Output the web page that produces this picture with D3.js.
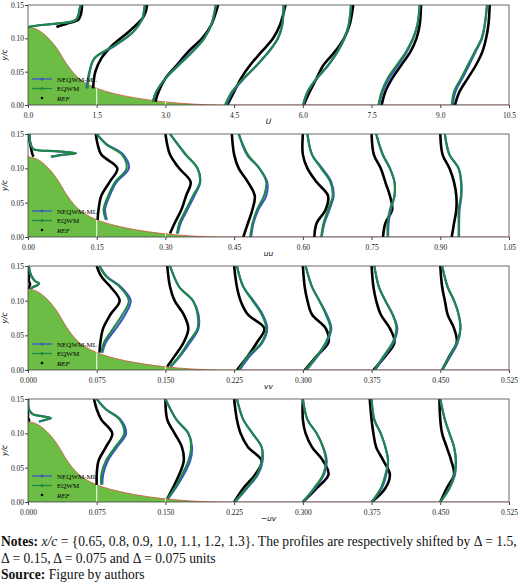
<!DOCTYPE html>
<html><head><meta charset="utf-8">
<script src="https://cdn.jsdelivr.net/npm/d3@7"></script>
<style>body{margin:0;background:#fff}</style></head>
<body><svg id="c" width="520" height="584"></svg>
<script>
// hill geometry (fraction of x-axis, y/c)
const hillFrac = [0,0.02,0.04,0.06,0.08,0.10,0.12,0.14,0.18,0.22,0.28,0.34,0.4,1];
const hillH    = [0.117,0.113,0.102,0.085,0.062,0.044,0.033,0.026,0.017,0.011,0.005,0.0015,0,0];

const G  = [0,0.02,0.04,0.06,0.08,0.10,0.12,0.15];
const G2 = [0.005,0.02,0.04,0.06,0.08,0.10,0.12,0.15];
const G1 = [0.025,0.04,0.06,0.08,0.10,0.12,0.135,0.15];
const G0 = [0.117,0.12,0.122,0.125,0.128,0.135,0.142,0.15];

// U panel
const uY   = [G0,[0.025,0.05,0.07,0.09,0.11,0.13,0.14,0.15],G2,G,G,G,G];
const uEQ  = [[0.0,0.3,0.6,0.95,1.05,1.1,1.12,1.15],[1.3,1.35,1.45,1.9,2.3,2.5,2.53,2.55],[2.72,2.8,3.0,3.3,3.6,3.85,4.0,4.1],
  [4.3,4.45,4.7,5.0,5.25,5.45,5.55,5.58],[6.0,6.1,6.3,6.55,6.75,6.9,7.0,7.05],[7.65,7.72,7.85,8.05,8.25,8.4,8.5,8.55],[9.25,9.3,9.45,9.6,9.75,9.9,9.97,10.02]];
const uNEQ = [[0.0,0.3,0.62,0.95,1.05,1.1,1.12,1.15],[1.28,1.34,1.45,1.92,2.3,2.5,2.53,2.55],[2.73,2.8,3.0,3.28,3.58,3.84,4.0,4.1],
  [4.33,4.47,4.72,5.0,5.26,5.46,5.55,5.58],[6.01,6.11,6.31,6.56,6.76,6.91,7.0,7.05],[7.66,7.74,7.88,8.08,8.27,8.41,8.5,8.55],[9.27,9.33,9.48,9.63,9.77,9.91,9.97,10.02]];
const uREF = [[0.62,0.75,0.85,1.0,1.1,1.15,1.17,1.18],[1.42,1.47,1.6,1.85,2.2,2.5,2.57,2.6],[2.78,2.85,3.0,3.25,3.5,3.8,4.0,4.15],
  [4.35,4.5,4.65,4.85,5.1,5.35,5.5,5.62],[6.02,6.15,6.3,6.45,6.7,6.9,7.02,7.1],[7.72,7.8,7.95,8.15,8.35,8.48,8.55,8.58],[9.32,9.42,9.6,9.78,9.92,10.0,10.05,10.08]];

// uu panel
const uuY   = [G0,G1,G2,G,G,G,G];
const uuEQ  = [[0.05,0.08,0.105,0.06,0.012,0.006,0.004,0.003],[0.17,0.165,0.175,0.19,0.215,0.205,0.17,0.15],[0.325,0.33,0.345,0.36,0.375,0.37,0.345,0.31],
  [0.485,0.49,0.5,0.515,0.52,0.505,0.48,0.46],[0.64,0.645,0.655,0.665,0.66,0.64,0.62,0.61],[0.785,0.785,0.79,0.8,0.8,0.79,0.775,0.76],[0.94,0.94,0.94,0.945,0.945,0.94,0.92,0.91]];
const uuNEQ = [[0.05,0.08,0.105,0.06,0.012,0.006,0.004,0.003],[0.172,0.168,0.178,0.193,0.22,0.208,0.172,0.15],[0.327,0.333,0.348,0.363,0.376,0.37,0.344,0.31],
  [0.487,0.492,0.503,0.52,0.522,0.505,0.478,0.46],[0.641,0.647,0.658,0.667,0.662,0.642,0.62,0.61],[0.786,0.787,0.792,0.8,0.8,0.79,0.774,0.76],[0.941,0.941,0.942,0.946,0.946,0.94,0.92,0.91]];
const uuREF = [[0.012,0.01,0.009,0.008,0.007,0.005,0.003,0.002],[0.152,0.154,0.16,0.178,0.195,0.16,0.152,0.148],[0.31,0.32,0.335,0.345,0.355,0.33,0.31,0.3],
  [0.47,0.48,0.49,0.495,0.48,0.46,0.45,0.445],[0.625,0.63,0.65,0.655,0.63,0.61,0.6,0.6],[0.775,0.78,0.795,0.79,0.78,0.77,0.755,0.75],[0.925,0.93,0.935,0.935,0.93,0.92,0.905,0.9]];

// vv panel
const vvY   = [G0,G1,G2,G,G,G,G];
const vvEQ  = [[0.003,0.006,0.01,0.012,0.008,0.004,0.002,0.001],[0.08,0.083,0.093,0.103,0.11,0.1,0.085,0.078],[0.155,0.165,0.175,0.185,0.185,0.18,0.165,0.155],
  [0.23,0.24,0.255,0.26,0.255,0.245,0.235,0.228],[0.303,0.315,0.325,0.33,0.325,0.318,0.31,0.303],[0.378,0.388,0.398,0.402,0.398,0.39,0.383,0.378],[0.452,0.46,0.468,0.472,0.47,0.465,0.458,0.452]];
const vvNEQ = [[0.003,0.006,0.01,0.012,0.008,0.004,0.002,0.001],[0.081,0.085,0.096,0.106,0.112,0.101,0.086,0.078],[0.156,0.166,0.177,0.186,0.186,0.18,0.165,0.155],
  [0.231,0.242,0.256,0.261,0.256,0.246,0.235,0.228],[0.304,0.316,0.326,0.331,0.326,0.318,0.31,0.303],[0.379,0.389,0.399,0.403,0.398,0.39,0.383,0.378],[0.452,0.461,0.469,0.472,0.47,0.465,0.458,0.452]];
const vvREF = [[0.001,0.001,0.002,0.002,0.001,0.001,0.0,0.0],[0.078,0.079,0.082,0.09,0.1,0.09,0.08,0.075],[0.152,0.16,0.17,0.175,0.17,0.16,0.155,0.152],
  [0.228,0.24,0.25,0.258,0.24,0.232,0.228,0.225],[0.302,0.315,0.328,0.325,0.31,0.305,0.302,0.3],[0.377,0.39,0.4,0.395,0.385,0.38,0.377,0.375],[0.452,0.46,0.468,0.465,0.458,0.455,0.452,0.45]];

// -uv panel
const uvY   = [G0,G1,G2,G,G,G,G];
const uvEQ  = [[0.012,0.02,0.025,0.015,0.005,0.001,0.0,0.0],[0.08,0.08,0.085,0.095,0.105,0.1,0.085,0.075],[0.152,0.16,0.168,0.175,0.178,0.175,0.162,0.15],
  [0.225,0.238,0.25,0.255,0.255,0.245,0.235,0.228],[0.3,0.312,0.322,0.325,0.322,0.315,0.305,0.3],[0.375,0.385,0.39,0.393,0.39,0.385,0.378,0.375],[0.45,0.46,0.465,0.467,0.465,0.46,0.455,0.45]];
const uvNEQ = [[0.012,0.02,0.025,0.015,0.005,0.001,0.0,0.0],[0.081,0.082,0.087,0.097,0.107,0.101,0.085,0.075],[0.153,0.161,0.17,0.177,0.179,0.175,0.162,0.15],
  [0.226,0.239,0.251,0.256,0.255,0.245,0.235,0.228],[0.3,0.313,0.323,0.326,0.322,0.315,0.305,0.3],[0.375,0.386,0.391,0.393,0.39,0.385,0.378,0.375],[0.45,0.46,0.466,0.467,0.465,0.46,0.455,0.45]];
const uvREF = [[0.001,0.001,0.0,0.0,0.0,0.0,0.0,0.0],[0.075,0.075,0.077,0.085,0.092,0.08,0.075,0.072],[0.152,0.158,0.165,0.17,0.168,0.16,0.152,0.15],
  [0.225,0.235,0.248,0.255,0.24,0.232,0.228,0.225],[0.3,0.315,0.328,0.322,0.31,0.303,0.3,0.3],[0.375,0.39,0.395,0.388,0.38,0.377,0.375,0.373],[0.45,0.457,0.465,0.462,0.457,0.452,0.45,0.449]];

const xMax   = [10.5, 1.05, 0.525, 0.525];
const xTicks = [d3.range(0,10.51,1.5), d3.range(0,1.051,0.15), d3.range(0,0.526,0.075), d3.range(0,0.526,0.075)];
const tickFmt = [".1f", ".2f", ".3f", ".3f"];
const xLabels = ["U","uu","vv","\u2212uv"];
const yTicks = [0,0.05,0.10,0.15];
const panelTop = [5,134,266,399], panelBot = [105,237,370,502];
const Ys = [uY,uuY,vvY,uvY], EQs=[uEQ,uuEQ,vvEQ,uvEQ], NEQs=[uNEQ,uuNEQ,vvNEQ,uvNEQ], REFs=[uREF,uuREF,vvREF,uvREF];
const legendNames = ["NEQWM-ML","EQWM","REF"];

const svg = d3.select("#c");
const L=28, R=509;
const serif = "Liberation Serif, DejaVu Serif, serif";
panelTop.forEach((top,p)=>{
  const x = d3.scaleLinear().domain([0,xMax[p]]).range([L,R]);
  const y = d3.scaleLinear().domain([0,0.15]).range([panelBot[p],top]);
  const g = svg.append("g");
  const clipId="cl"+p;
  g.append("clipPath").attr("id",clipId).append("rect").attr("x",L).attr("y",top).attr("width",R-L).attr("height",panelBot[p]-top);
  const body = g.append("g").attr("clip-path",`url(#${clipId})`);
  const hill = hillFrac.map((f,i)=>[f*xMax[p],hillH[i]]);
  body.append("path").datum(hill).attr("fill","#6cbd45")
    .attr("d",d3.area().x(d=>x(d[0])).y0(y(0)).y1(d=>y(d[1])).curve(d3.curveMonotoneX));
  body.append("path").datum(hill).attr("fill","none").attr("stroke","#d0503a").attr("stroke-width",0.8)
    .attr("d",d3.line().x(d=>x(d[0])).y(d=>y(d[1])).curve(d3.curveMonotoneX));
  [1,2].forEach(k=>{
    const xv = xTicks[p][k];
    const f = xv/xMax[p];
    const hh = d3.scaleLinear().domain(hillFrac).range(hillH)(f);
    body.append("line").attr("x1",x(xv)).attr("x2",x(xv)).attr("y1",y(0)).attr("y2",y(hh)).attr("stroke","#fff").attr("stroke-width",1);
  });
  const ln = d3.line().x(d=>x(d[0])).y(d=>y(d[1])).curve(d3.curveCatmullRom);
  for(let s=0;s<7;s++){
    const yy=Ys[p][s];
    const ref=REFs[p][s].map((v,i)=>[v,yy[i]]);
    const neq=NEQs[p][s].map((v,i)=>[v,yy[i]]);
    const eq=EQs[p][s].map((v,i)=>[v,yy[i]]);
    body.append("path").datum(ref).attr("fill","none").attr("stroke","#000").attr("stroke-width",2.6).attr("d",ln);
    body.append("path").datum(neq).attr("fill","none").attr("stroke","#3a56c8").attr("stroke-width",2.2).attr("d",ln);
    body.append("path").datum(eq).attr("fill","none").attr("stroke","#1c8a40").attr("stroke-width",2).attr("d",ln);
  }
  g.append("rect").attr("x",L).attr("y",top).attr("width",R-L).attr("height",panelBot[p]-top).attr("fill","none").attr("stroke","#444").attr("stroke-width",0.8);
  const xa = g.append("g").attr("transform",`translate(0,${panelBot[p]})`)
    .call(d3.axisBottom(x).tickValues(xTicks[p]).tickFormat(d3.format(tickFmt[p])).tickSize(3));
  const ya = g.append("g").attr("transform",`translate(${L},0)`)
    .call(d3.axisLeft(y).tickValues(yTicks).tickFormat(d3.format(".2f")).tickSize(3));
  [xa,ya].forEach(a=>{a.select(".domain").remove();a.selectAll("text").attr("font-family",serif).attr("font-size",7.5).attr("fill","#222");a.selectAll("line").attr("stroke","#444");});
  ya.selectAll("text").attr("x",-4);
  xa.selectAll("text").attr("dy","0.9em");
  g.append("text").attr("x",(L+R)/2).attr("y",panelBot[p]+19).attr("text-anchor","middle").attr("font-family","DejaVu Sans").attr("font-style","italic").attr("font-size",7.5).text(xLabels[p]);
  g.append("text").attr("transform",`translate(7,${(top+panelBot[p])/2}) rotate(-90)`).attr("text-anchor","middle").attr("font-family","DejaVu Sans").attr("font-style","italic").attr("font-size",7.5).text("y/c");
  const lg = g.append("g");
  const lcol=["#3a56c8","#1c8a40","#000"];
  legendNames.forEach((n,i)=>{
    const yy = panelBot[p]-26+i*9.5;
    if(i<2){
      lg.append("line").attr("x1",32).attr("x2",52).attr("y1",yy).attr("y2",yy).attr("stroke",lcol[i]).attr("stroke-width",1.3);
      lg.append("circle").attr("cx",42).attr("cy",yy).attr("r",1.5).attr("fill",lcol[i]);
    } else lg.append("circle").attr("cx",42).attr("cy",yy).attr("r",1.3).attr("fill","#000");
    lg.append("text").attr("x",57).attr("y",yy+2.5).attr("font-family",serif).attr("font-size",7).attr("font-style",i==2?"italic":"normal").text(n);
  });
});
const nt = svg.append("g").attr("font-family",serif).attr("font-size",13.6).attr("fill","#111");
const t1 = nt.append("text").attr("x",1).attr("y",546);
t1.append("tspan").attr("font-weight","bold").text("Notes: ");
t1.append("tspan").attr("font-style","italic").text("x/c");
t1.append("tspan").text(" = {0.65, 0.8, 0.9, 1.0, 1.1, 1.2, 1.3}. The profiles are respectively shifted by \u0394 = 1.5,");
nt.append("text").attr("x",1).attr("y",563).text("\u0394 = 0.15, \u0394 = 0.075 and \u0394 = 0.075 units");
const t3 = nt.append("text").attr("x",1).attr("y",579);
t3.append("tspan").attr("font-weight","bold").text("Source: ");
t3.append("tspan").text("Figure by authors");
</script></body></html>
